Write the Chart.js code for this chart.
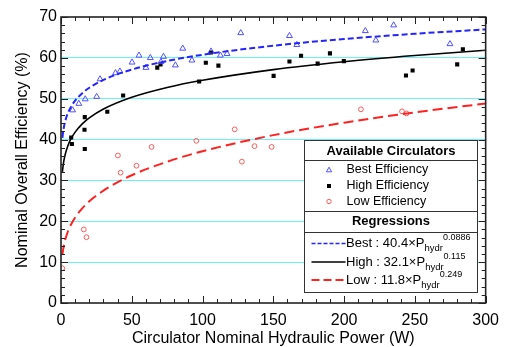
<!DOCTYPE html>
<html>
<head>
<meta charset="utf-8">
<script src="https://cdn.jsdelivr.net/npm/chart.js@4"></script>
<style>
  html, body { margin: 0; padding: 0; background: #fff; }
  #wrap { width: 507px; height: 347px; }
</style>
</head>
<body>
<div id="wrap"><canvas id="chart" width="507" height="347"></canvas></div>
<script>
// measured points
const bestX = [8.2, 12.6, 17.1, 25.2, 27.6, 38.5, 41.6, 50.2, 55.1, 60.0, 63.1, 70.6, 72.4, 80.8, 86.0, 92.5, 106.0, 112.6, 117.3, 127.0, 161.4, 166.6, 215.0, 222.4, 235.0, 274.8];
const bestY = [47.2, 48.8, 49.9, 50.5, 54.8, 56.3, 56.7, 58.9, 60.6, 57.6, 60.0, 59.0, 60.3, 58.2, 62.3, 59.4, 61.6, 60.6, 61.0, 66.1, 65.4, 63.2, 66.6, 64.3, 68.0, 63.4];

const highX = [7.2, 7.7, 16.8, 16.6, 16.8, 32.7, 43.9, 68.0, 70.3, 97.6, 102.3, 106.0, 111.2, 150.2, 161.4, 169.6, 181.3, 190.0, 199.8, 243.7, 248.4, 279.9, 283.9];
const highY = [40.5, 38.9, 45.5, 42.4, 37.7, 46.8, 50.8, 57.6, 58.4, 54.2, 58.8, 61.3, 58.1, 55.6, 59.1, 60.5, 58.6, 61.1, 59.2, 55.7, 56.9, 58.4, 62.1];

const lowX = [0.9, 16.1, 18.0, 40.2, 42.1, 53.3, 64.0, 95.6, 122.7, 127.8, 136.7, 148.8, 211.9, 240.9, 244.1];
const lowY = [8.5, 18.0, 16.1, 36.1, 31.9, 33.6, 38.2, 39.7, 42.5, 34.6, 38.4, 38.2, 47.4, 46.9, 46.4];

// regression curves (values as listed in the legend)
const fitX = [1, 1.5, 2, 3, 5, 7, 10, 15, 20, 30, 50, 75, 100, 150, 200, 250, 300];
const bestFit = [40.40, 41.88, 42.96, 44.53, 46.59, 48.00, 49.54, 51.36, 52.68, 54.61, 57.14, 59.23, 60.76, 62.98, 64.60, 65.90, 66.96];
const highFit = [32.10, 33.63, 34.76, 36.42, 38.63, 40.15, 41.83, 43.83, 45.30, 47.47, 50.34, 52.74, 54.51, 57.12, 59.04, 60.57, 61.85];
const lowFit = [11.80, 13.05, 14.02, 15.51, 17.62, 19.16, 20.94, 23.16, 24.88, 27.52, 31.26, 34.58, 37.15, 41.09, 44.14, 46.66, 48.83];

const markerLabels = ["Best Efficiency", "High Efficiency", "Low Efficiency"];
const fitLabels = [
  { name: "Best : 40.4×P", exp: "0.0886" },
  { name: "High : 32.1×P", exp: "0.115" },
  { name: "Low : 11.8×P", exp: "0.249" },
];

const FONT = "'Liberation Sans', Arial, sans-serif";
const BLUE_PT = "rgb(80,80,255)";
const RED_PT = "rgb(255,90,90)";
const BLUE_LN = "#2424ff";
const RED_LN = "#ff2020";

const pts = (xs, ys) => xs.map((x, i) => ({ x, y: ys[i] }));

function drawMarker(ctx, kind, x, y) {
  ctx.save();
  ctx.lineWidth = 1;
  if (kind === 0) {
    ctx.strokeStyle = BLUE_PT;
    ctx.beginPath();
    ctx.moveTo(x, y - 2.8);
    ctx.lineTo(x + 2.6, y + 1.8);
    ctx.lineTo(x - 2.6, y + 1.8);
    ctx.closePath();
    ctx.stroke();
  } else if (kind === 1) {
    ctx.fillStyle = "#000";
    ctx.fillRect(x - 2, y - 2, 4, 4);
  } else {
    ctx.strokeStyle = RED_PT;
    ctx.beginPath();
    ctx.arc(x, y, 2.2, 0, Math.PI * 2);
    ctx.stroke();
  }
  ctx.restore();
}

const framePlugin = {
  id: "framePlugin",
  afterDatasetsDraw(chart) {
    const { ctx, chartArea: a, scales } = chart;
    const xs = scales.x, ys = scales.y;
    ctx.save();
    ctx.strokeStyle = "#222";
    ctx.lineWidth = 1;
    for (let v = 0; v <= 300; v += 10) {
      const px = Math.round(xs.getPixelForValue(v)) + 0.5;
      const len = v % 50 === 0 ? 7 : 4;
      ctx.beginPath();
      ctx.moveTo(px, a.bottom); ctx.lineTo(px, a.bottom - len);
      ctx.moveTo(px, a.top); ctx.lineTo(px, a.top + len);
      ctx.stroke();
    }
    for (let v = 0; v <= 70; v += 2) {
      const py = Math.round(ys.getPixelForValue(v)) + 0.5;
      const len = v % 10 === 0 ? 7 : 4;
      ctx.beginPath();
      ctx.moveTo(a.left, py); ctx.lineTo(a.left + len, py);
      ctx.moveTo(a.right, py); ctx.lineTo(a.right - len, py);
      ctx.stroke();
    }
    ctx.lineWidth = 1.6;
    ctx.strokeRect(a.left, a.top, a.right - a.left, a.bottom - a.top);
    ctx.restore();
  },
  afterDraw(chart) {
    const ctx = chart.ctx;
    const L = { x: 304.5, y: 140.5, w: 173, h: 152 };
    ctx.save();
    ctx.fillStyle = "#fff";
    ctx.fillRect(L.x, L.y, L.w, L.h);
    ctx.strokeStyle = "#333";
    ctx.lineWidth = 1;
    ctx.strokeRect(L.x, L.y, L.w, L.h);
    [160.5, 211.5, 232.5].forEach((y) => {
      ctx.beginPath();
      ctx.moveTo(L.x, y); ctx.lineTo(L.x + L.w, y);
      ctx.stroke();
    });

    ctx.fillStyle = "#000";
    ctx.textBaseline = "middle";
    ctx.textAlign = "center";
    ctx.font = "bold 13px " + FONT;
    ctx.fillText("Available Circulators", L.x + L.w / 2, 151);
    ctx.fillText("Regressions", L.x + L.w / 2, 221);

    ctx.textAlign = "left";
    ctx.font = "12.5px " + FONT;
    const rowY = [170, 186, 201.5];
    markerLabels.forEach((t, i) => {
      drawMarker(ctx, i, 329, rowY[i]);
      ctx.fillStyle = "#000";
      ctx.fillText(t, 346.5, rowY[i]);
    });

    const fitY = [243.5, 262, 280];
    const fitStyle = [
      { c: BLUE_LN, d: [4, 2], w: 1.6 },
      { c: "#000", d: [], w: 1.4 },
      { c: RED_LN, d: [8, 4], w: 1.8 },
    ];
    fitLabels.forEach((f, i) => {
      const y = fitY[i];
      ctx.save();
      ctx.strokeStyle = fitStyle[i].c;
      ctx.lineWidth = fitStyle[i].w;
      ctx.setLineDash(fitStyle[i].d);
      ctx.beginPath();
      ctx.moveTo(311.5, y); ctx.lineTo(345.5, y);
      ctx.stroke();
      ctx.restore();
      ctx.fillStyle = "#000";
      ctx.font = "13px " + FONT;
      let x = 346;
      ctx.fillText(f.name, x, y);
      x += ctx.measureText(f.name).width;
      ctx.font = "9.5px " + FONT;
      ctx.fillText("hydr", x, y + 5);
      x += ctx.measureText("hydr").width;
      ctx.font = "9px " + FONT;
      ctx.fillText(f.exp, x, y - 5.5);
    });
    ctx.restore();
  },
};

const lineBase = {
  type: "line",
  pointRadius: 0,
  fill: false,
  cubicInterpolationMode: "monotone",
};

new Chart(document.getElementById("chart"), {
  data: {
    datasets: [
      { ...lineBase, data: pts(fitX, lowFit), borderColor: RED_LN, borderWidth: 2, borderDash: [10, 5] },
      { ...lineBase, data: pts(fitX, highFit), borderColor: "#000", borderWidth: 1.6 },
      { ...lineBase, data: pts(fitX, bestFit), borderColor: BLUE_LN, borderWidth: 2, borderDash: [6, 3] },
      {
        type: "scatter", data: pts(bestX, bestY), pointStyle: "triangle", pointRadius: 3.4,
        borderColor: BLUE_PT, backgroundColor: "rgba(0,0,0,0)", borderWidth: 1,
      },
      {
        type: "scatter", data: pts(highX, highY), pointStyle: "rect", pointRadius: 2.9,
        borderColor: "#000", backgroundColor: "#000", borderWidth: 0,
      },
      {
        type: "scatter", data: pts(lowX, lowY), pointStyle: "circle", pointRadius: 2.4,
        borderColor: RED_PT, backgroundColor: "rgba(0,0,0,0)", borderWidth: 1,
      },
    ],
  },
  options: {
    responsive: false,
    animation: false,
    layout: { padding: { left: 0, right: 18, top: 17, bottom: 0 } },
    plugins: { legend: { display: false }, tooltip: { enabled: false } },
    scales: {
      x: {
        type: "linear",
        min: 0,
        max: 300,
        afterFit: (s) => { s.height = 44; },
        border: { display: false },
        grid: { display: false, drawTicks: false },
        ticks: { stepSize: 50, padding: 8, color: "#000", font: { family: FONT, size: 16 } },
        title: {
          display: true,
          text: "Circulator Nominal Hydraulic Power (W)",
          color: "#000",
          font: { family: FONT, size: 16, lineHeight: 1 },
          padding: { top: 0, bottom: 0 },
        },
      },
      y: {
        type: "linear",
        min: 0,
        max: 70,
        afterFit: (s) => { s.width = 61; },
        border: { display: false },
        grid: {
          drawTicks: false,
          lineWidth: 1,
          color: (c) => (c.tick && c.tick.value > 0 && c.tick.value < 70 ? "rgb(110,240,250)" : "rgba(0,0,0,0)"),
        },
        ticks: { stepSize: 10, padding: 4, color: "#000", font: { family: FONT, size: 16 } },
        title: {
          display: true,
          text: "Nominal Overall Efficiency (%)",
          color: "#000",
          font: { family: FONT, size: 16, lineHeight: 1 },
          padding: { top: 14.5, bottom: 0 },
        },
      },
    },
  },
  plugins: [framePlugin],
});
</script>
</body>
</html>
